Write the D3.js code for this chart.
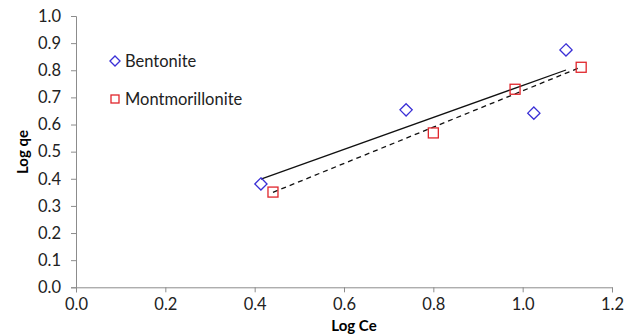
<html>
  <head>
    <script src="https://cdn.jsdelivr.net/npm/d3@7"></script>
    <style>
      body { margin: 0; background: #fff; }
      text { font-family: Lato, "Open Sans", sans-serif; }
    </style>
  </head>
  <body>
    <script>
      // values
      const bentoniteX = [0.414, 0.739, 1.025, 1.097];
      const bentoniteY = [0.381, 0.654, 0.642, 0.875];
      const montX = [0.441, 0.800, 0.983, 1.131];
      const montY = [0.351, 0.569, 0.730, 0.811];
      // trend line endpoints
      const bentTrendX = [0.414, 1.097];
      const bentTrendY = [0.399, 0.801];
      const montTrendX = [0.441, 1.131];
      const montTrendY = [0.350, 0.812];
      const xTicks = [0, 0.2, 0.4, 0.6, 0.8, 1.0, 1.2];
      const yTicks = [0, 0.1, 0.2, 0.3, 0.4, 0.5, 0.6, 0.7, 0.8, 0.9, 1.0];

      const width = 630, height = 335;
      const svg = d3.select("body").append("svg")
          .attr("width", width)
          .attr("height", height);

      const x = d3.scaleLinear().domain([0, 1.2]).range([76, 612]);
      const y = d3.scaleLinear().domain([0, 1.0]).range([287.3, 16]);

      const axisColor = "#8c8c8c";

      // y axis
      const yAxis = svg.append("g")
          .attr("transform", "translate(76,0)")
          .call(d3.axisLeft(y).tickValues(yTicks).tickFormat(d3.format(".1f")).tickSizeOuter(0).tickSize(5));
      yAxis.select(".domain").attr("stroke", axisColor);
      yAxis.selectAll("line").attr("stroke", axisColor);
      yAxis.selectAll("text").attr("font-size", 16.5).attr("fill", "#222").attr("x", -15);

      // x axis
      const xAxis = svg.append("g")
          .attr("transform", "translate(0,287.3)")
          .call(d3.axisBottom(x).tickValues(xTicks).tickFormat(d3.format(".1f")).tickSizeOuter(0).tickSize(5));
      xAxis.select(".domain").attr("stroke", axisColor);
      xAxis.selectAll("line").attr("stroke", axisColor);
      xAxis.selectAll("text").attr("font-size", 16.5).attr("fill", "#222").attr("y", 11);

      // axis titles
      svg.append("text")
          .attr("x", 354).attr("y", 331)
          .attr("text-anchor", "middle")
          .attr("font-size", 15).attr("font-weight", "bold")
          .text("Log Ce");
      svg.append("text")
          .attr("transform", "translate(28,152) rotate(-90)")
          .attr("text-anchor", "middle")
          .attr("font-size", 15).attr("font-weight", "bold")
          .text("Log qe");

      const line = d3.line().x(d => x(d[0])).y(d => y(d[1]));

      svg.append("path")
          .datum(d3.zip(bentTrendX, bentTrendY))
          .attr("fill", "none").attr("stroke", "#111").attr("stroke-width", 1.3)
          .attr("d", line);
      svg.append("path")
          .datum(d3.zip(montTrendX, montTrendY))
          .attr("fill", "none").attr("stroke", "#111").attr("stroke-width", 1.3)
          .attr("stroke-dasharray", "5,4")
          .attr("d", line);

      const blue = "#3a2fd6", red = "#e0252b";
      const diamond = d3.symbol().type(d3.symbolDiamond2).size(95);

      svg.append("g").selectAll("path")
          .data(d3.zip(bentoniteX, bentoniteY))
          .join("path")
          .attr("transform", d => `translate(${x(d[0])},${y(d[1])})`)
          .attr("d", diamond)
          .attr("fill", "none").attr("stroke", blue).attr("stroke-width", 1.3);

      svg.append("g").selectAll("rect")
          .data(d3.zip(montX, montY))
          .join("rect")
          .attr("x", d => x(d[0]) - 5).attr("y", d => y(d[1]) - 5)
          .attr("width", 10).attr("height", 10)
          .attr("fill", "none").attr("stroke", red).attr("stroke-width", 1.3);

      // legend
      const legend = svg.append("g");
      legend.append("path")
          .attr("transform", "translate(115,61)")
          .attr("d", d3.symbol().type(d3.symbolDiamond2).size(65))
          .attr("fill", "none").attr("stroke", blue).attr("stroke-width", 1.3);
      legend.append("text").attr("x", 125).attr("y", 67)
          .attr("font-size", 16.5).attr("fill", "#222").text("Bentonite");
      legend.append("rect")
          .attr("x", 111).attr("y", 95).attr("width", 8).attr("height", 8)
          .attr("fill", "none").attr("stroke", red).attr("stroke-width", 1.3);
      legend.append("text").attr("x", 125).attr("y", 105)
          .attr("font-size", 16.5).attr("fill", "#222").text("Montmorillonite");
    </script>
  </body>
</html>
